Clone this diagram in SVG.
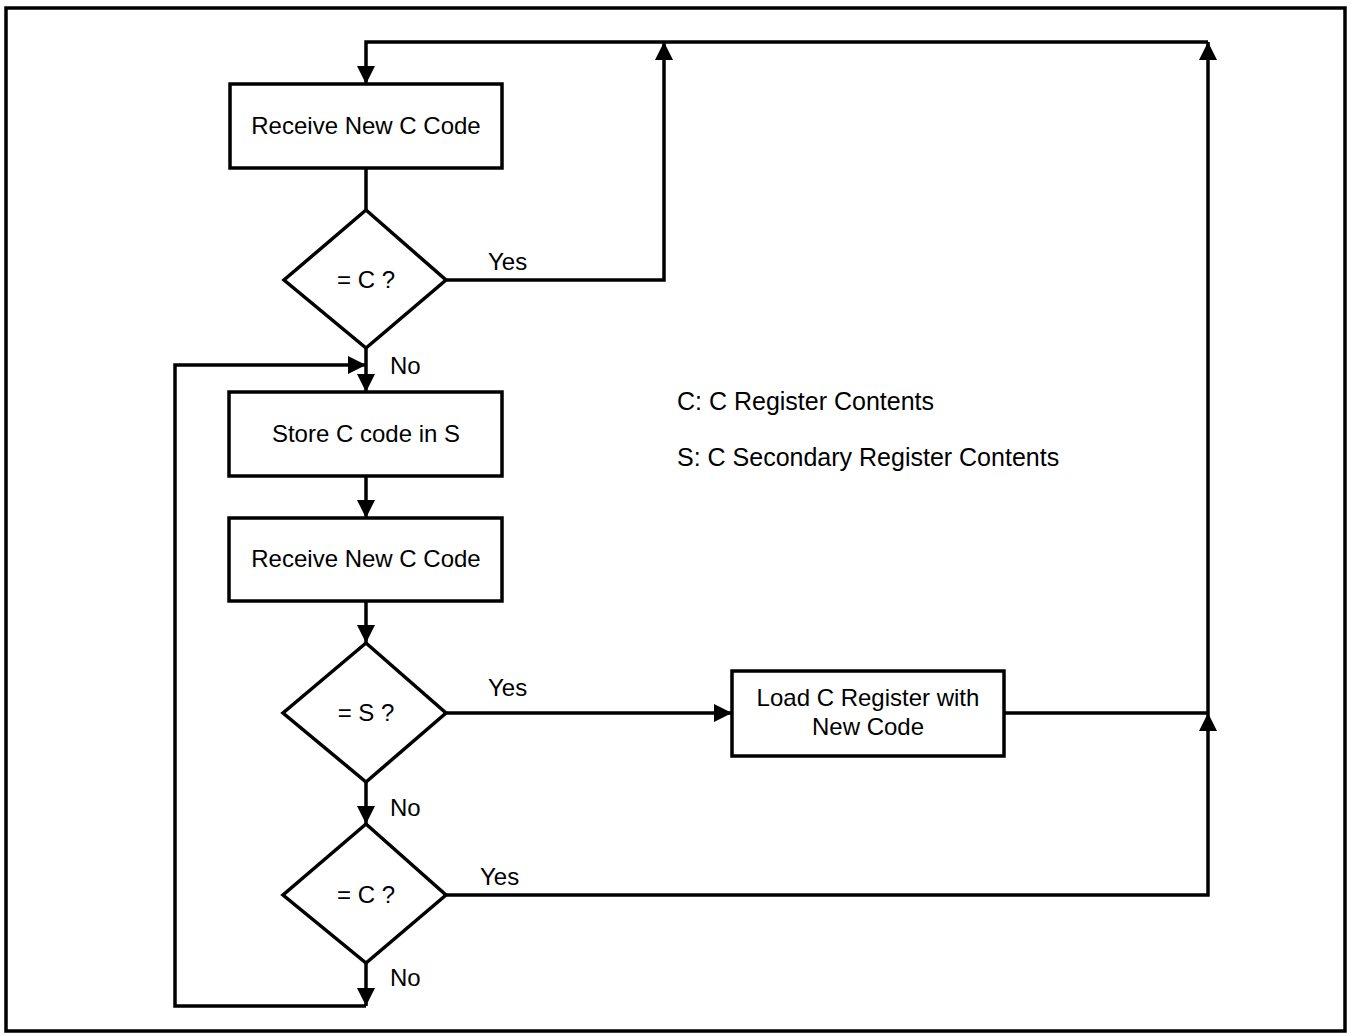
<svg xmlns="http://www.w3.org/2000/svg" width="1351" height="1036" viewBox="0 0 1351 1036">
<style>
.b{fill:#fff;stroke:#000;stroke-width:3.5}
.l{fill:none;stroke:#000;stroke-width:3.5}
text{font-family:"Liberation Sans",Arial,sans-serif;font-size:24px;fill:#000}
.c{text-anchor:middle}
.g{font-size:25px}
</style>
<defs>
<marker id="a" viewBox="0 0 18 18" refX="18" refY="9" markerWidth="18" markerHeight="18" markerUnits="userSpaceOnUse" orient="auto">
<path d="M0,0 L18,9 L0,18 Z" fill="#000"/>
</marker>
</defs>
<rect x="6" y="8" width="1339" height="1023" fill="#fff" stroke="#000" stroke-width="3.5"/>
<g id="connectors">
<path class="l" d="M664,42 L366,42 L366,84" marker-end="url(#a)"/>
<path class="l" d="M1208,42 L664,42"/>
<path class="l" d="M366,168 L366,210"/>
<path class="l" d="M446,280 L664,280 L664,42" marker-end="url(#a)"/>
<path class="l" d="M366,348 L366,392" marker-end="url(#a)"/>
<path class="l" d="M366,1006 L175,1006 L175,365 L366,365" marker-end="url(#a)"/>
<path class="l" d="M366,476 L366,518" marker-end="url(#a)"/>
<path class="l" d="M366,601 L366,643" marker-end="url(#a)"/>
<path class="l" d="M446,713 L732,713" marker-end="url(#a)"/>
<path class="l" d="M366,782 L366,824" marker-end="url(#a)"/>
<path class="l" d="M366,963 L366,1006" marker-end="url(#a)"/>
<path class="l" d="M1004,713 L1208,713"/>
<path class="l" d="M446,895 L1208,895 L1208,713" marker-end="url(#a)"/>
<path class="l" d="M1208,713 L1208,42" marker-end="url(#a)"/>
<text x="488" y="270">Yes</text>
<text x="390" y="374">No</text>
<text x="488" y="696">Yes</text>
<text x="390" y="816">No</text>
<text x="480" y="885">Yes</text>
<text x="390" y="986">No</text>
</g>
<g id="n1"><rect class="b" x="230" y="84" width="272" height="84"/><text class="c" x="366" y="134">Receive New C Code</text></g>
<g id="d1"><path class="b" d="M366,210 L446,280 L366,348 L284,280 Z"/><text class="c" x="366" y="288">= C ?</text></g>
<g id="n2"><rect class="b" x="229" y="392" width="273" height="84"/><text class="c" x="366" y="442">Store C code in S</text></g>
<g id="n3"><rect class="b" x="229" y="518" width="273" height="83"/><text class="c" x="366" y="567">Receive New C Code</text></g>
<g id="d2"><path class="b" d="M366,643 L446,713 L366,782 L283,713 Z"/><text class="c" x="366" y="721">= S ?</text></g>
<g id="d3"><path class="b" d="M366,824 L446,895 L366,963 L283,895 Z"/><text class="c" x="366" y="903">= C ?</text></g>
<g id="n4"><rect class="b" x="732" y="671" width="272" height="85"/><text class="c" x="868" y="706">Load C Register with</text><text class="c" x="868" y="735">New Code</text></g>
<g id="legend"><text class="g" x="677" y="410">C: C Register Contents</text><text class="g" x="677" y="466">S: C Secondary Register Contents</text></g>
</svg>
